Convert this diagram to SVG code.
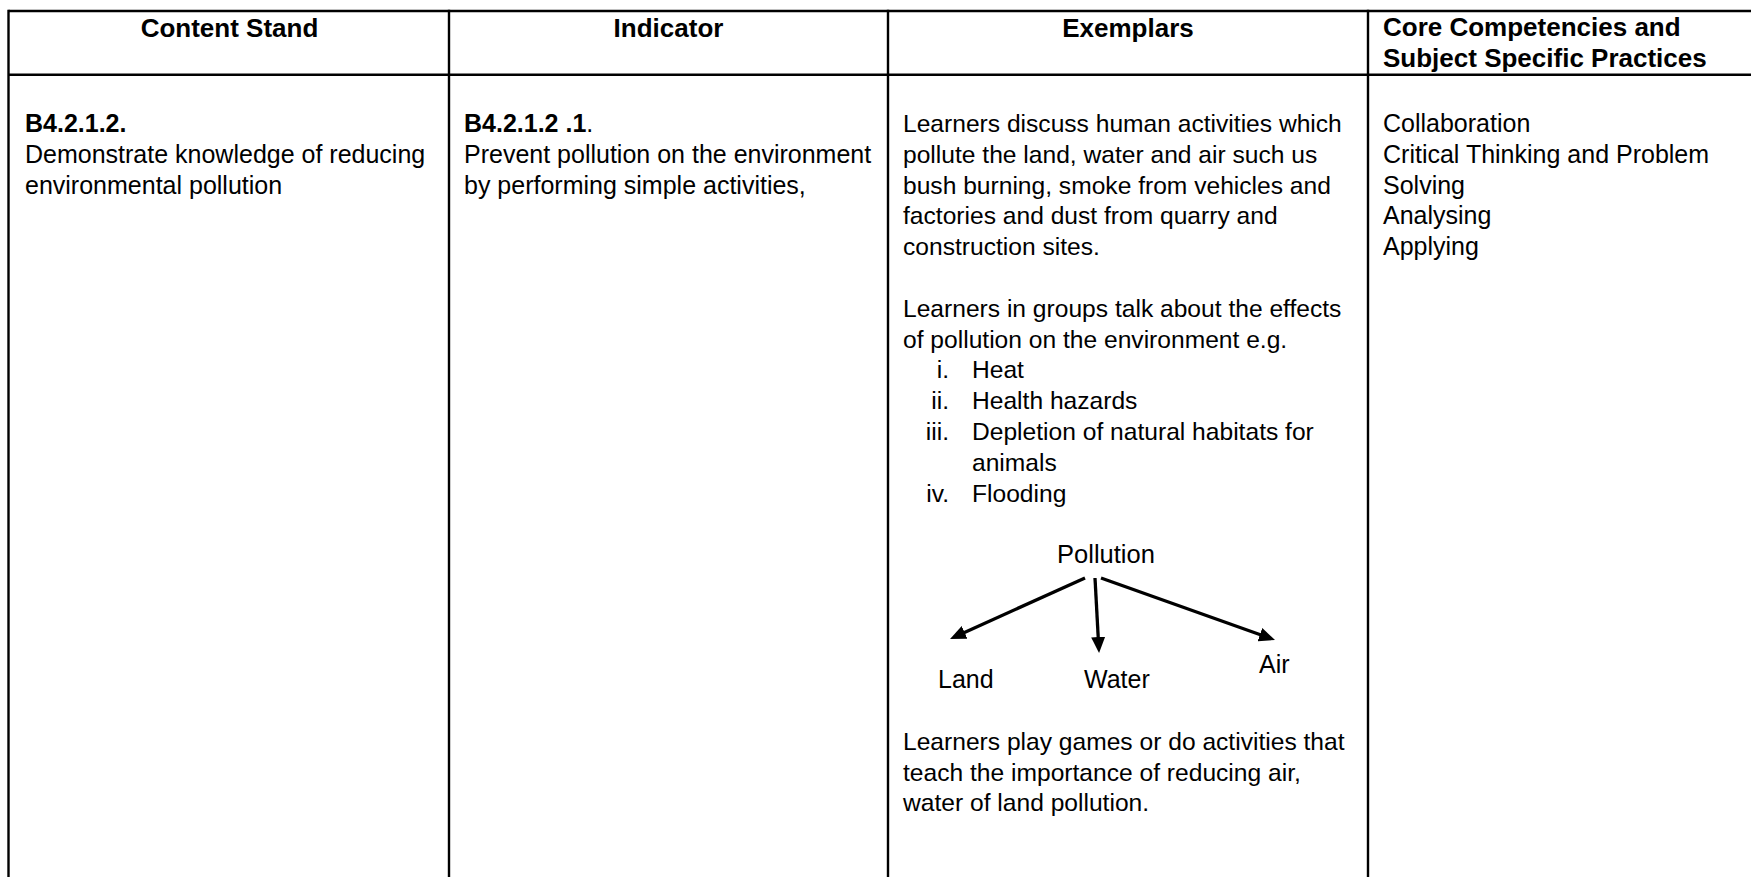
<svg xmlns="http://www.w3.org/2000/svg" width="1751" height="877" viewBox="0 0 1751 877">
<style>
  .grid { stroke: #000; stroke-width: 2.4; fill: none; }
  .hd { font-family: "Liberation Sans", Arial, sans-serif; font-weight: bold; font-size: 26px; fill: #000; }
  .tx { font-family: "Liberation Sans", Arial, sans-serif; font-size: 25px; fill: #000; }
  .ex { font-size: 24.6px; }
  .b { font-weight: bold; }
  .num { text-anchor: end; }
  .cal { font-family: "Liberation Sans", Arial, sans-serif; font-size: 25.5px; fill: #000; }
  .conn { stroke: #000; stroke-width: 3.3; fill: none; marker-end: url(#arr); }
</style>
<defs>
  <marker id="arr" markerUnits="userSpaceOnUse" markerWidth="16" markerHeight="14" refX="2" refY="7" orient="auto">
    <path d="M0,0 L16,7 L0,14 z" fill="#000"/>
  </marker>
</defs>
<rect x="0" y="0" width="1751" height="877" fill="#fff"/>

<g id="table-grid" class="grid">
  <line x1="8.5" y1="11" x2="1751" y2="11"/>
  <line x1="8.5" y1="74.7" x2="1751" y2="74.7"/>
  <line x1="8.5" y1="9.8" x2="8.5" y2="877"/>
  <line x1="449" y1="9.8" x2="449" y2="877"/>
  <line x1="888" y1="9.8" x2="888" y2="877"/>
  <line x1="1368" y1="9.8" x2="1368" y2="877"/>
</g>

<g id="header-content-stand">
  <text class="hd" x="229.5" y="37" text-anchor="middle">Content Stand</text>
</g>
<g id="header-indicator">
  <text class="hd" x="668.5" y="37" text-anchor="middle">Indicator</text>
</g>
<g id="header-exemplars">
  <text class="hd" x="1128" y="37" text-anchor="middle">Exemplars</text>
</g>
<g id="header-core">
  <text class="hd" x="1383" y="36">Core Competencies and</text>
  <text class="hd" x="1383" y="66.5">Subject Specific Practices</text>
</g>

<g id="cell-content-stand">
  <text class="tx b" x="25" y="132">B4.2.1.2.</text>
  <text class="tx" x="25" y="162.8">Demonstrate knowledge of reducing</text>
  <text class="tx" x="25" y="193.6">environmental pollution</text>
</g>

<g id="cell-indicator">
  <text class="tx" x="464" y="132"><tspan class="b">B4.2.1.2 .1</tspan>.</text>
  <text class="tx" x="464" y="162.8">Prevent pollution on the environment</text>
  <text class="tx" x="464" y="193.6">by performing simple activities,</text>
</g>

<g id="cell-exemplars">
  <text class="tx ex" x="903" y="132">Learners discuss human activities which</text>
  <text class="tx ex" x="903" y="162.8">pollute the land, water and air such us</text>
  <text class="tx ex" x="903" y="193.6">bush burning, smoke from vehicles and</text>
  <text class="tx ex" x="903" y="224.4">factories and dust from quarry and</text>
  <text class="tx ex" x="903" y="255.2">construction sites.</text>
  <text class="tx ex" x="903" y="316.8">Learners in groups talk about the effects</text>
  <text class="tx ex" x="903" y="347.6">of pollution on the environment e.g.</text>
  <text class="tx ex num" x="949" y="378.4">i.</text>
  <text class="tx ex" x="972" y="378.4">Heat</text>
  <text class="tx ex num" x="949" y="409.2">ii.</text>
  <text class="tx ex" x="972" y="409.2">Health hazards</text>
  <text class="tx ex num" x="949" y="440">iii.</text>
  <text class="tx ex" x="972" y="440">Depletion of natural habitats for</text>
  <text class="tx ex" x="972" y="470.8">animals</text>
  <text class="tx ex num" x="949" y="501.6">iv.</text>
  <text class="tx ex" x="972" y="501.6">Flooding</text>
  <text class="tx ex" x="903" y="750">Learners play games or do activities that</text>
  <text class="tx ex" x="903" y="781">teach the importance of reducing air,</text>
  <text class="tx ex" x="903" y="811">water of land pollution.</text>
</g>

<g id="node-pollution">
  <text class="cal" x="1106" y="563" text-anchor="middle">Pollution</text>
</g>
<g id="node-land">
  <text class="tx" x="938" y="688">Land</text>
</g>
<g id="node-water">
  <text class="tx" x="1084" y="688">Water</text>
</g>
<g id="node-air">
  <text class="tx" x="1259" y="673">Air</text>
</g>

<g id="connectors">
  <line class="conn" x1="1085" y1="578" x2="962.8" y2="633.2"/>
  <line class="conn" x1="1095" y1="578" x2="1098.3" y2="639"/>
  <line class="conn" x1="1101" y1="578" x2="1261.8" y2="635.3"/>
</g>

<g id="cell-core">
  <text class="tx" x="1383" y="132">Collaboration</text>
  <text class="tx" x="1383" y="162.8">Critical Thinking and Problem</text>
  <text class="tx" x="1383" y="193.6">Solving</text>
  <text class="tx" x="1383" y="224.4">Analysing</text>
  <text class="tx" x="1383" y="255.2">Applying</text>
</g>
</svg>
